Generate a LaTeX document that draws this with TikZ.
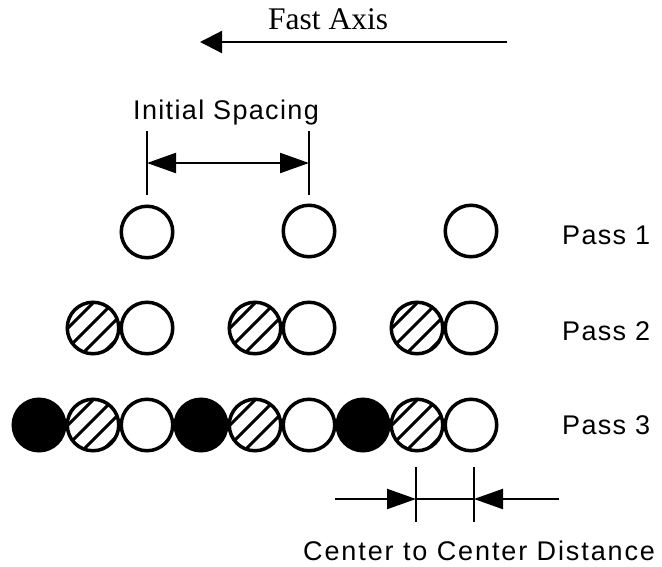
\documentclass[tikz,border=0pt]{standalone}
\usepackage{fontspec}
\setmainfont{Liberation Serif}
\newfontfamily\labelfont[LetterSpace=5]{Liberation Sans}
\newfontfamily\widelabelfont[LetterSpace=7]{Liberation Sans}
\usetikzlibrary{arrows.meta}
\begin{document}
\begin{tikzpicture}[x=1pt,y=-1pt,
  dot/.style={circle,draw=black,line width=3.5pt,minimum size=51.5pt,inner sep=0pt},
  whitedot/.style={dot,fill=white},
  blackdot/.style={dot,fill=black},
  hatchdot/.style={dot,fill=white,path picture={
      \foreach \k in {-2,...,2}{
        \draw[line width=3pt] ([shift={(\k*20-5-40,40)}]path picture bounding box.center) -- ++(80,-80);
      }}},
  lbl/.style={font=\labelfont\fontsize{27}{32}\selectfont,inner sep=0pt},
  widelbl/.style={font=\widelabelfont\fontsize{27}{32}\selectfont,inner sep=0pt},
  titlelbl/.style={font=\fontsize{31.5}{36}\selectfont,inner sep=0pt},
  axisarrow/.style={line width=2.2pt,-{Triangle[length=22pt,width=22pt]}},
  dimarrow/.style={line width=2.2pt,-{Triangle[length=29pt,width=20pt]}},
  bar/.style={line width=2.7pt}
]
\useasboundingbox (0,0) rectangle (662,566);

% title
\node[titlelbl,anchor=base west] (fast) at (268,29) {Fast Axis};
\coordinate (faR) at (507,42);
\coordinate (faL) at (200,42);
\draw[axisarrow] (faR) -- (faL);

% initial spacing
\node[lbl,anchor=base west] (init) at (133,119) {Initial Spacing};
\coordinate (b1t) at (147,131);
\coordinate (b1b) at (147,195);
\coordinate (b2t) at (309,131);
\coordinate (b2b) at (309,195);
\draw[bar] (b1t) -- (b1b);
\draw[bar] (b2t) -- (b2b);
\coordinate (s1) at (147,163);
\coordinate (s2) at (309,163);
\coordinate (smid) at (228,163);
\draw[dimarrow] (smid) -- (s1);
\draw[dimarrow] (smid) -- (s2);

% pass 1
\node[whitedot] (p1a) at (147,232) {};
\node[whitedot] (p1b) at (309,231) {};
\node[whitedot] (p1c) at (471,231) {};
\node[lbl,anchor=west] (pass1) at (562,235) {Pass 1};

% pass 2
\node[hatchdot] (p2h1) at (93,328) {};
\node[whitedot] (p2w1) at (147,328) {};
\node[hatchdot] (p2h2) at (255,328) {};
\node[whitedot] (p2w2) at (309,328) {};
\node[hatchdot] (p2h3) at (417,328) {};
\node[whitedot] (p2w3) at (471,328) {};
\node[lbl,anchor=west] (pass2) at (562,331) {Pass 2};

% pass 3
\node[blackdot] (p3b1) at (39,425) {};
\node[hatchdot] (p3h1) at (93,425) {};
\node[whitedot] (p3w1) at (147,425) {};
\node[blackdot] (p3b2) at (201,425) {};
\node[hatchdot] (p3h2) at (255,425) {};
\node[whitedot] (p3w2) at (309,425) {};
\node[blackdot] (p3b3) at (363,425) {};
\node[hatchdot] (p3h3) at (417,425) {};
\node[whitedot] (p3w3) at (471,425) {};
\node[lbl,anchor=west] (pass3) at (562,425) {Pass 3};

% center to center distance
\coordinate (c1t) at (416,467);
\coordinate (c1b) at (416,522);
\coordinate (c2t) at (474,467);
\coordinate (c2b) at (474,522);
\draw[bar] (c1t) -- (c1b);
\draw[bar] (c2t) -- (c2b);
\coordinate (cL) at (335,499);
\coordinate (cR) at (559,499);
\coordinate (c1) at (416,499);
\coordinate (c2) at (474,499);
\draw[dimarrow] (cL) -- (c1);
\draw[dimarrow] (cR) -- (c2);
\draw[line width=2.2pt] (c1) -- (c2);
\node[widelbl,anchor=base west] (ccd) at (303,560) {Center to Center Distance};
\end{tikzpicture}
\end{document}
